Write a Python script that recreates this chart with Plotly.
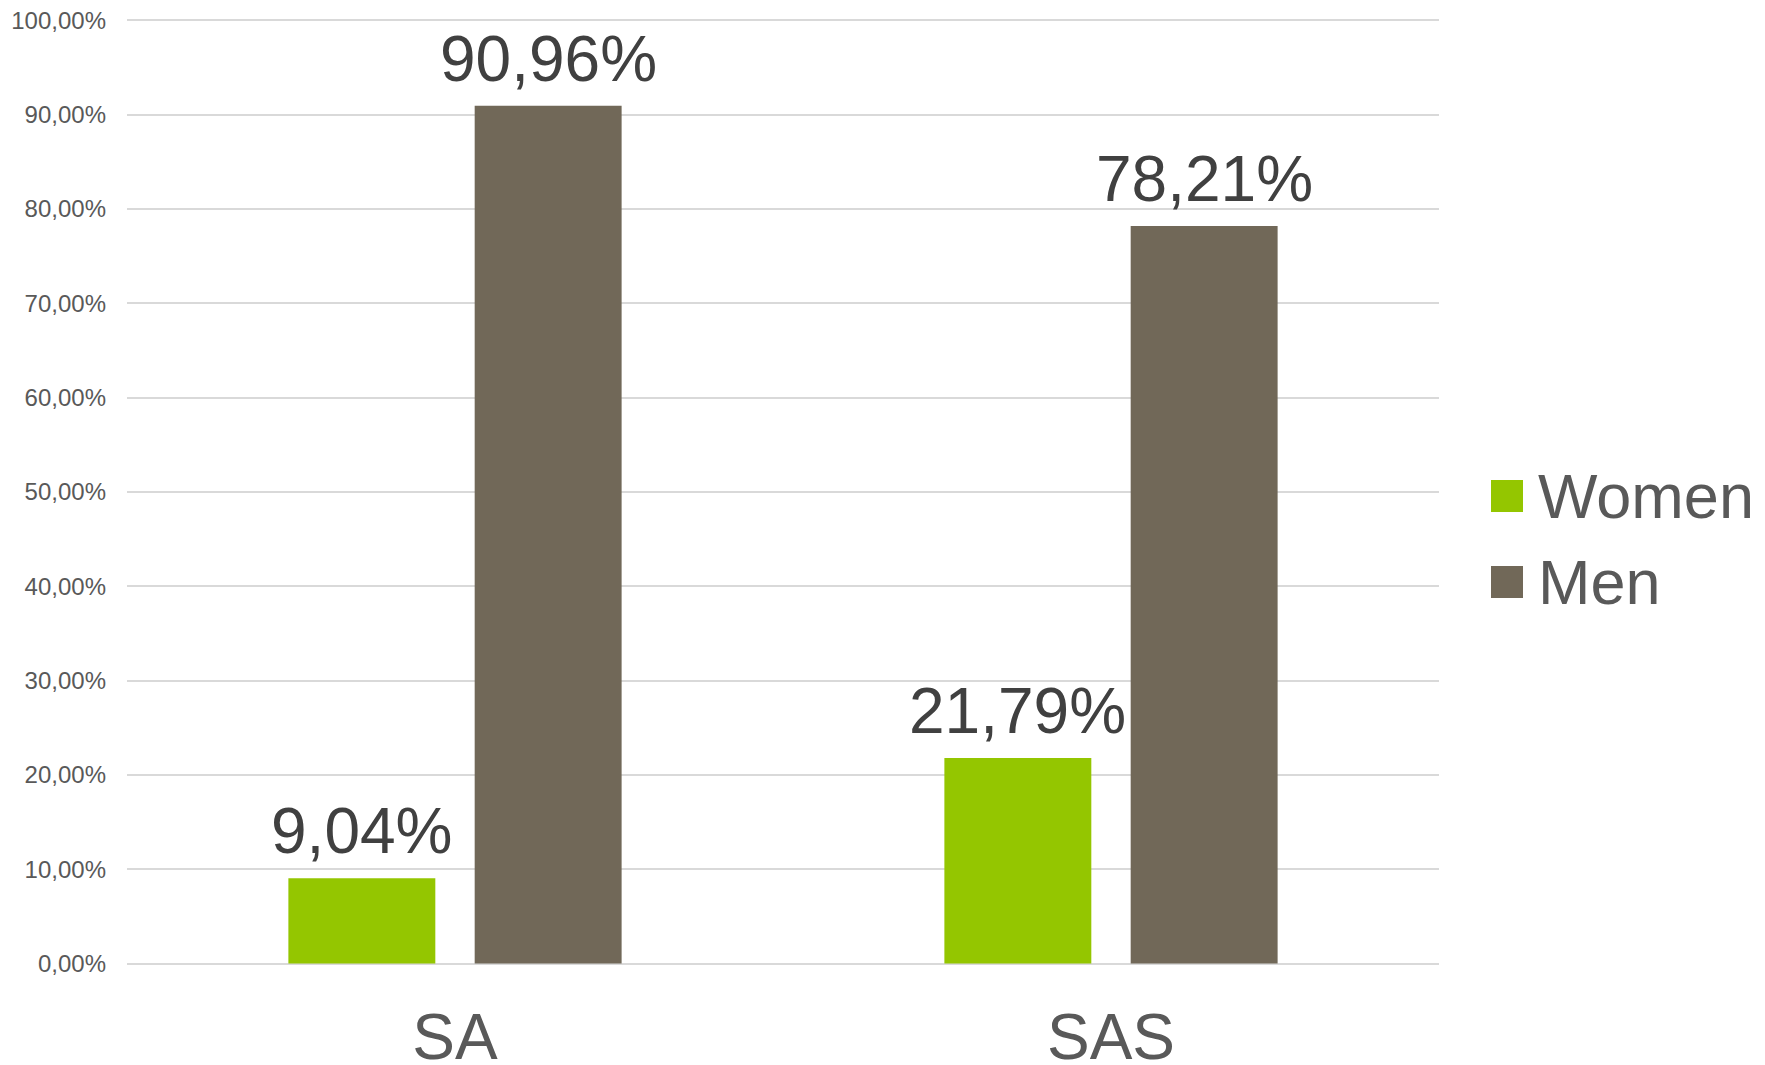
import plotly.graph_objects as go

# Share of women and men per group (percent)
categories = ["SA", "SAS"]
women = [9.04, 21.79]
men = [90.96, 78.21]
y_ticks = [0, 10, 20, 30, 40, 50, 60, 70, 80, 90, 100]

GREEN = "#94C600"
BROWN = "#716858"
FONT = "Liberation Sans, Arial, sans-serif"

W, H = 1765, 1065
L, R, T, B = 127, 326, 19, 100
plot_w = W - L - R
plot_h = H - T - B


def pct(v):
    return f"{v:.2f}".replace(".", ",") + "%"


fig = go.Figure()

bar_w = 0.224
series = [
    ("Women", women, GREEN, -0.254),
    ("Men", men, BROWN, 0.030),
]
for name, vals, color, offset in series:
    fig.add_trace(
        go.Bar(
            x=categories,
            y=vals,
            name=name,
            marker=dict(color=color, line=dict(width=0)),
            width=bar_w,
            offset=offset,
            showlegend=False,
        )
    )
    # value labels centred above each bar
    for i, v in enumerate(vals):
        fig.add_annotation(
            x=i + offset + bar_w / 2,
            y=v,
            xref="x", yref="y",
            text=pct(v),
            showarrow=False,
            xanchor="center",
            yanchor="bottom",
            yshift=9,
            font=dict(family=FONT, size=64, color="#404040"),
        )

# Legend drawn as large squares with labels to the right of the plot
legend_items = [("Women", GREEN, 496), ("Men", BROWN, 582)]
for label, color, cy in legend_items:
    y_mid = (H - B - cy) / plot_h
    half = 16 / plot_h
    fig.add_shape(
        type="rect",
        xref="paper", yref="paper",
        x0=(1491 - L) / plot_w, x1=(1523 - L) / plot_w,
        y0=y_mid - half, y1=y_mid + half,
        fillcolor=color, line=dict(width=0),
    )
    fig.add_annotation(
        xref="paper", yref="paper",
        x=(1536 - L) / plot_w, y=y_mid,
        xanchor="left", yanchor="middle",
        text=label, showarrow=False,
        font=dict(family=FONT, size=63, color="#595959"),
    )

fig.update_layout(
    width=W,
    height=H,
    margin=dict(l=L, r=R, t=T, b=B, pad=0, autoexpand=False),
    paper_bgcolor="white",
    plot_bgcolor="white",
    barmode="overlay",
    font=dict(family=FONT, color="#595959"),
)

fig.update_xaxes(
    showgrid=False,
    showline=False,
    zeroline=False,
    ticks="",
    tickfont=dict(family=FONT, size=64, color="#595959"),
    ticklabelstandoff=29,
    automargin=False,
)

fig.update_yaxes(
    range=[-0.15, 100.15],
    tickvals=y_ticks,
    ticktext=[pct(v) for v in y_ticks],
    showgrid=True,
    gridcolor="#D9D9D9",
    gridwidth=1.5,
    zeroline=False,
    showline=False,
    ticks="",
    tickfont=dict(family=FONT, size=24, color="#595959"),
    ticklabelstandoff=20,
    automargin=False,
)

fig.write_html("out.html")
